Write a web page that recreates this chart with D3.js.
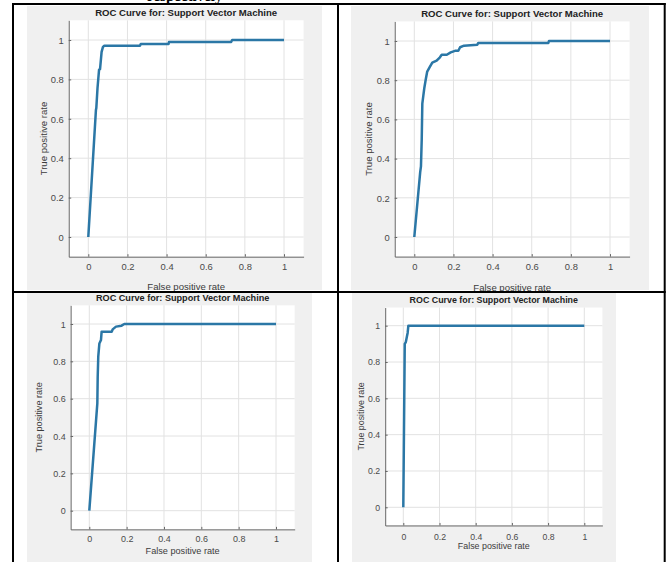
<!DOCTYPE html>
<html>
<head>
<meta charset="utf-8">
<script src="https://cdn.jsdelivr.net/npm/d3@7"></script>
<style>
  body { margin: 0; background: #fff; }
  svg { display: block; }
  text { font-family: "Liberation Sans", Arial, sans-serif; }
</style>
</head>
<body>
<svg id="chart" width="666" height="562"></svg>
<script>
// tick values and labels shared by all four plots
var tickValues = [0, 0.2, 0.4, 0.6, 0.8, 1];
var tickLabels = ["0", "0.2", "0.4", "0.6", "0.8", "1"];
var titleText = "ROC Curve for: Support Vector Machine";
var xLabelText = "False positive rate";
var yLabelText = "True positive rate";

// curve vertices (fpr, tpr)
var fprA = [0, 0.039, 0.041, 0.047, 0.055, 0.06, 0.068, 0.075, 0.082, 0.264, 0.268, 0.41, 0.412, 0.73, 0.735, 1];
var tprA = [0, 0.645, 0.655, 0.755, 0.85, 0.852, 0.94, 0.965, 0.971, 0.971, 0.98, 0.98, 0.99, 0.99, 1, 1];

var fprB = [0, 0.03, 0.034, 0.038, 0.041, 0.046, 0.051, 0.058, 0.066, 0.08, 0.092, 0.114, 0.131, 0.14, 0.166, 0.186, 0.208, 0.225, 0.234, 0.254, 0.322, 0.327, 0.685, 0.688, 1];
var tprB = [0, 0.33, 0.36, 0.5, 0.68, 0.72, 0.759, 0.801, 0.844, 0.869, 0.89, 0.9, 0.917, 0.93, 0.93, 0.942, 0.95, 0.95, 0.968, 0.976, 0.981, 0.99, 0.99, 1, 1];

var fprC = [0, 0.043, 0.045, 0.048, 0.054, 0.0625, 0.066, 0.12, 0.125, 0.143, 0.173, 0.1875, 1];
var tprC = [0, 0.575, 0.718, 0.825, 0.896, 0.914, 0.959, 0.959, 0.971, 0.986, 0.991, 1, 1];

var fprD = [0, 0.008, 0.014, 0.02, 0.024, 0.028, 1];
var tprD = [0, 0.9, 0.91, 0.94, 0.96, 1, 1];

// where each plot sits on the page (pixel positions of data 0 and 1)
var panels = [
  { fpr: fprA, tpr: tprA, bg: [27, 6, 322, 290], x0: 88.3, x1: 284, y0: 237, y1: 40,
    titleY: 13, xtickY: 267, xlabelY: 287.3, ylabelX: 44.5 },
  { fpr: fprB, tpr: tprB, bg: [351, 6, 649, 290], x0: 414.3, x1: 610, y0: 237, y1: 41,
    titleY: 14, xtickY: 267, xlabelY: 288.3, ylabelX: 370 },
  { fpr: fprC, tpr: tprC, bg: [27, 293, 312, 562], x0: 89.3, x1: 276, y0: 510.7, y1: 324,
    titleY: 298.3, xtickY: 538.3, xlabelY: 551.7, ylabelX: 40 },
  { fpr: fprD, tpr: tprD, bg: [352, 293, 616, 562], x0: 403.3, x1: 584.3, y0: 507.3, y1: 325.7,
    titleY: 300.7, xtickY: 536.7, xlabelY: 546.7, ylabelX: 361.7 }
];

var svg = d3.select("#chart");

// clipped caption text from the page above the table
svg.append("text")
  .attr("x", 147).attr("y", 1)
  .style("font-family", "'Liberation Serif', serif")
  .style("font-weight", "bold")
  .style("font-size", "15px")
  .attr("fill", "#000")
  .text("respectively");

panels.forEach(function(p) {
  var ux = p.x1 - p.x0, uy = p.y0 - p.y1;
  var x = d3.scaleLinear().domain([-0.1, 1.1]).range([p.x0 - 0.1 * ux, p.x1 + 0.1 * ux]);
  var y = d3.scaleLinear().domain([-0.1, 1.1]).range([p.y0 + 0.1 * uy, p.y1 - 0.1 * uy]);
  var fs = 0.049 * ux;
  var tfs = fs * 0.98;

  var g = svg.append("g");

  // figure background
  g.append("rect")
    .attr("x", p.bg[0]).attr("y", p.bg[1])
    .attr("width", p.bg[2] - p.bg[0]).attr("height", p.bg[3] - p.bg[1])
    .attr("fill", "#f0f0f0");

  // axes background
  g.append("rect")
    .attr("x", x(-0.1)).attr("y", y(1.1))
    .attr("width", x(1.1) - x(-0.1)).attr("height", y(-0.1) - y(1.1))
    .attr("fill", "#fff");

  // grid
  g.selectAll(".vg").data(tickValues).enter().append("line")
    .attr("x1", function(d) { return x(d); }).attr("x2", function(d) { return x(d); })
    .attr("y1", y(-0.1)).attr("y2", y(1.1))
    .attr("stroke", "#e2e2e2").attr("stroke-width", 1);
  g.selectAll(".hg").data(tickValues).enter().append("line")
    .attr("y1", function(d) { return y(d); }).attr("y2", function(d) { return y(d); })
    .attr("x1", x(-0.1)).attr("x2", x(1.1))
    .attr("stroke", "#e2e2e2").attr("stroke-width", 1);

  // axes
  var xAxis = d3.axisBottom(x).tickValues(tickValues)
    .tickFormat(function(d, i) { return tickLabels[i]; })
    .tickSizeInner(-2.5).tickSizeOuter(0);
  var yAxis = d3.axisLeft(y).tickValues(tickValues)
    .tickFormat(function(d, i) { return tickLabels[i]; })
    .tickSizeInner(-2.5).tickSizeOuter(0).tickPadding(5);

  var gx = g.append("g").attr("transform", "translate(0," + y(-0.1) + ")").call(xAxis);
  gx.selectAll("text")
    .attr("y", p.xtickY + 0.36 * tfs - y(-0.1)).attr("dy", null)
    .style("font-size", tfs + "px").attr("fill", "#4a4a4a");

  var gy = g.append("g").attr("transform", "translate(" + x(-0.1) + ",0)").call(yAxis);
  gy.selectAll("text")
    .attr("dy", "0.34em")
    .style("font-size", tfs + "px").attr("fill", "#4a4a4a");

  [gx, gy].forEach(function(a) {
    a.select(".domain").attr("stroke", "#666").attr("stroke-width", 1);
    a.selectAll(".tick line").attr("stroke", "#666");
  });

  // ROC curve
  var pts = p.fpr.map(function(f, i) { return [f, p.tpr[i]]; });
  var line = d3.line()
    .x(function(d) { return x(d[0]); })
    .y(function(d) { return y(d[1]); });
  g.append("path")
    .datum(pts)
    .attr("d", line)
    .attr("fill", "none")
    .attr("stroke", "#2b77a6")
    .attr("stroke-width", 2.5)
    .attr("stroke-linejoin", "round");

  // title and labels
  var cx = (x(-0.1) + x(1.1)) / 2;
  var cy = (y(-0.1) + y(1.1)) / 2;
  g.append("text")
    .attr("x", cx).attr("y", p.titleY + 0.3 * fs)
    .attr("text-anchor", "middle")
    .style("font-size", fs + "px").style("font-weight", "bold")
    .attr("fill", "#222")
    .text(titleText);
  g.append("text")
    .attr("x", cx).attr("y", p.xlabelY + 0.26 * fs)
    .attr("text-anchor", "middle")
    .style("font-size", fs + "px")
    .attr("fill", "#3c3c3c")
    .text(xLabelText);
  g.append("text")
    .attr("transform", "translate(" + (p.ylabelX + 0.26 * fs) + "," + cy + ") rotate(-90)")
    .attr("text-anchor", "middle")
    .style("font-size", fs + "px")
    .attr("fill", "#3c3c3c")
    .text(yLabelText);
});

// table borders
var borders = [
  [13, 3, 13, 562], [338, 3, 338, 562], [664.7, 3, 664.7, 562],
  [12, 4, 665.7, 4], [12, 292, 665.7, 292]
];
svg.selectAll(".border").data(borders).enter().append("line")
  .attr("x1", function(d) { return d[0]; }).attr("y1", function(d) { return d[1]; })
  .attr("x2", function(d) { return d[2]; }).attr("y2", function(d) { return d[3]; })
  .attr("stroke", "#000").attr("stroke-width", 2);
</script>
</body>
</html>
